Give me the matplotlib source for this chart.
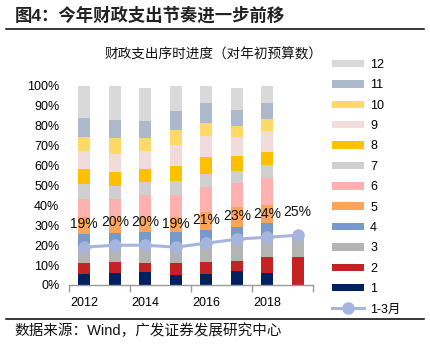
"""Stacked monthly fiscal spending progress with Q1 cumulative line."""

import matplotlib
matplotlib.use("Agg")
import matplotlib.pyplot as plt
import numpy as np
from matplotlib.lines import Line2D
from matplotlib.patches import Patch

plt.rcParams['font.family'] = ['Liberation Sans', 'Noto Sans CJK SC']

years = ['2012', '2013', '2014', '2015', '2016', '2017', '2018', '2019']

# monthly share of full-year budget (%), one list per month across years
m01 = [5.3, 6.0, 6.7, 5.0, 5.7, 7.1, 6.2, 0.0]
m02 = [5.7, 5.6, 4.5, 6.2, 5.9, 5.0, 8.0, 14.1]
m03 = [8.0, 8.4, 8.8, 7.8, 9.4, 10.9, 9.8, 10.9]
m04 = [6.6, 6.0, 6.5, 7.6, 6.8, 6.3, 7.1, 0.0]
m05 = [8.4, 7.7, 7.8, 7.7, 9.0, 9.7, 8.9, 0.0]
m06 = [9.4, 9.5, 10.9, 10.9, 12.6, 12.1, 13.6, 0.0]
m07 = [7.4, 6.5, 6.5, 7.2, 6.6, 6.3, 6.6, 0.0]
m08 = [7.7, 7.3, 6.7, 7.4, 8.4, 7.5, 6.8, 0.0]
m09 = [8.8, 8.8, 8.9, 10.6, 10.3, 9.6, 10.6, 0.0]
m10 = [7.2, 8.1, 6.7, 7.5, 6.8, 5.4, 5.7, 0.0]
m11 = [9.6, 9.0, 8.4, 9.6, 10.1, 8.2, 7.9, 0.0]
m12 = [15.9, 17.1, 16.4, 12.5, 8.4, 10.9, 8.8, 0.0]

# cumulative progress through March (%)
q1_progress = [19, 20, 20, 19, 21, 23, 24, 25]

month_labels = ['1', '2', '3', '4', '5', '6', '7', '8', '9', '10', '11', '12']
month_colors = ['#002060', '#C42223', '#B4B4B4', '#779ACB', '#FBA45A', '#FFB1AF',
                '#CFCFCF', '#FFC000', '#F2DCDB', '#FFD966', '#ACB9CA', '#D9D9D9']
line_color = '#A6B5DE'

fig = plt.figure(figsize=(4.3, 3.47), dpi=100)
ax = fig.add_axes([0.1605, 0.1787, 0.5674, 0.5735])

x = np.arange(len(years))
months = [m01, m02, m03, m04, m05, m06, m07, m08, m09, m10, m11, m12]
bottom = np.zeros(len(years))
for vals, color in zip(months, month_colors):
    v = np.array(vals) / 100
    ax.bar(x, v, width=0.4, bottom=bottom, color=color, linewidth=0, zorder=2)
    bottom += v

q1 = np.array(q1_progress) / 100
ax.plot(x, q1, color=line_color, lw=2.2, marker='o', ms=8,
        markerfacecolor=line_color, markeredgecolor=line_color, zorder=3)
for xi, val in zip(x, q1_progress):
    ax.annotate(f'{val}%', (xi, val / 100), xytext=(0, 17), textcoords='offset points',
                ha='center', va='center', fontsize=10, color='#111111', zorder=4)

ax.set_xlim(-0.5, 7.5)
ax.set_ylim(0, 1.0)
ax.set_yticks(np.arange(0, 1.01, 0.1))
ax.set_yticklabels([f'{int(round(t * 100))}%' for t in np.arange(0, 1.01, 0.1)])
ax.tick_params(axis='y', length=0, pad=7, labelsize=9)

ax.set_xticks([0, 2, 4, 6])
ax.set_xticklabels(years[0:7:2])
ax.set_xticks([-0.5, 1.5, 3.5, 5.5, 7.5], minor=True)
ax.tick_params(axis='x', which='major', length=0, pad=9, labelsize=9)
ax.tick_params(axis='x', which='minor', length=5, width=1, color='#9A9A9A')

for side in ['top', 'right', 'left']:
    ax.spines[side].set_visible(False)
ax.spines['bottom'].set_color('#9A9A9A')
ax.spines['bottom'].set_linewidth(1)

handles = [Patch(facecolor=c, edgecolor='none') for c in month_colors][::-1]
labels = month_labels[::-1]
handles.append(Line2D([], [], color=line_color, lw=2.2, marker='o', ms=8))
labels.append('1-3月')
fig.legend(handles, labels, loc='upper left', bbox_to_anchor=(0.772, 0.830),
           frameon=False, fontsize=9, handlelength=2.6, handleheight=0.55,
           handletextpad=0.45, labelspacing=0.67, borderaxespad=0, borderpad=0)

fig.text(0.035, 0.958, '图4：今年财政支出节奏进一步前移', fontsize=12.5,
         fontweight='bold', color='#222222', ha='left', va='center')
fig.add_artist(Line2D([0.014, 0.986], [0.916, 0.916], color='black', lw=1.1))
fig.text(0.497, 0.844, '财政支出序时进度（对年初预算数）', fontsize=9.8,
         ha='center', va='center', color='#111111')
fig.add_artist(Line2D([0.014, 0.986], [0.081, 0.081], color='black', lw=1.1))
fig.text(0.033, 0.047, '数据来源：Wind，广发证券发展研究中心', fontsize=10.5,
         ha='left', va='center', color='#111111')

fig.savefig('out.png', dpi=100)
